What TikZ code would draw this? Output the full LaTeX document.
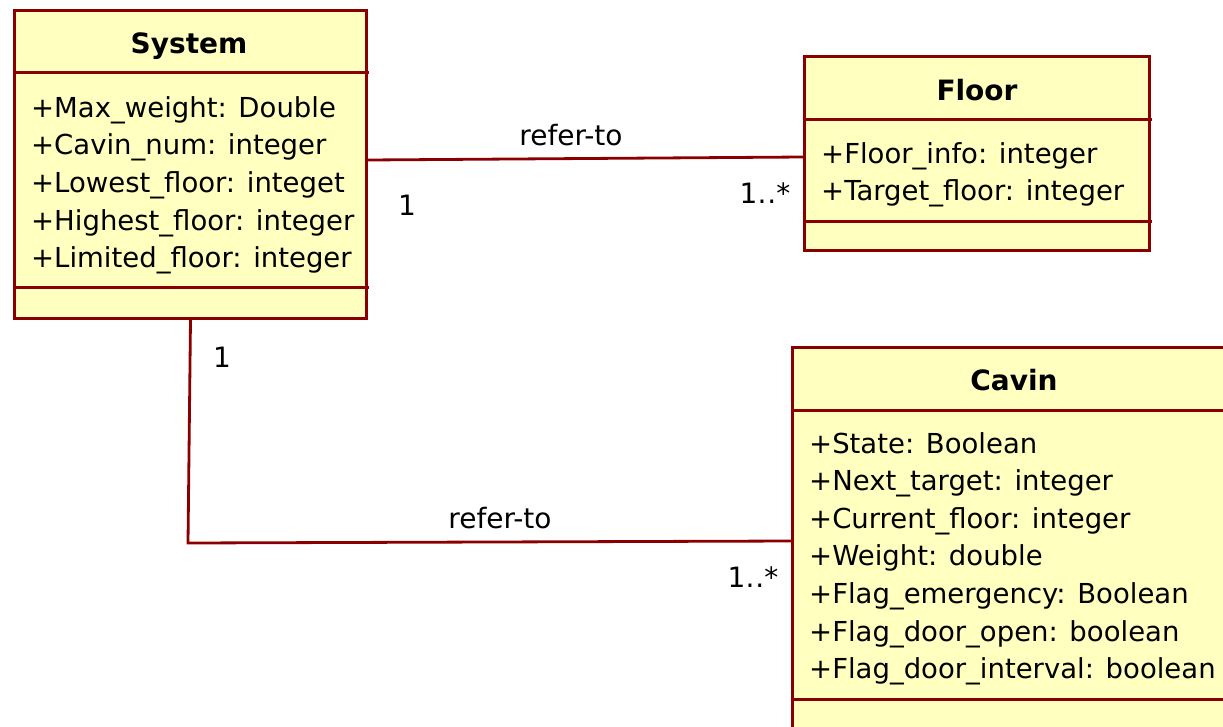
\documentclass[tikz,border=0pt]{standalone}
\usepackage{fontspec}
\setmainfont{DejaVu Sans}
\definecolor{umlline}{RGB}{138,0,0}
\definecolor{umlfill}{RGB}{255,255,192}
\begin{document}
\begin{tikzpicture}[x=1pt,y=-1pt,
  classbox/.style={draw=umlline, fill=umlfill, line width=3pt, rectangle,
                   inner sep=0pt, anchor=north west},
  divider/.style={draw=umlline, line width=3pt},
  assoc/.style={draw=umlline, line width=2.8pt},
  classname/.style={anchor=base, inner sep=0pt, font=\fontsize{28}{32}\selectfont\bfseries},
  attr/.style={anchor=base west, inner sep=0pt, font=\fontsize{27.5}{32}\selectfont},
  rolelabel/.style={anchor=base, inner sep=0pt, font=\fontsize{28}{32}\selectfont}]
\useasboundingbox (0,0) rectangle (1223,726);
\clip (0,0) rectangle (1223,726);

% System class
\node[classbox, minimum width=352pt, minimum height=308pt] (system) at (13,9) {};
\draw[divider] (system.west |- 0,72) -- (369,72);
\draw[divider] (system.west |- 0,287) -- (369,287);
\node[classname] (systemname) at (189,53) {System};
\foreach \t [count=\i from 0] in {{+Max\_weight: Double},{+Cavin\_num: integer},
    {+Lowest\_floor: integet},{+Highest\_floor: integer},{+Limited\_floor: integer}}
  \node[attr] (sysattr\i) at (31,117+37.7*\i) {\t};

% Floor class
\node[classbox, minimum width=345pt, minimum height=194pt] (floor) at (803,55) {};
\draw[divider] (floor.west |- 0,119) -- (1152,119);
\draw[divider] (floor.west |- 0,221) -- (1152,221);
\node[classname] (floorname) at (977,100) {Floor};
\foreach \t [count=\i from 0] in {{+Floor\_info: integer},{+Target\_floor: integer}}
  \node[attr] (floorattr\i) at (821,163+37.5*\i) {\t};

% Cavin class
\node[classbox, minimum width=446pt, minimum height=420pt] (cavin) at (791,346) {};
\draw[divider] (cavin.west |- 0,410) -- (1240,410);
\draw[divider] (cavin.west |- 0,699) -- (1240,699);
\node[classname] (cavinname) at (1014,390) {Cavin};
\foreach \t [count=\i from 0] in {{+State: Boolean},{+Next\_target: integer},
    {+Current\_floor: integer},{+Weight: double},{+Flag\_emergency: Boolean},
    {+Flag\_door\_open: boolean},{+Flag\_door\_interval: boolean}}
  \node[attr] (cavinattr\i) at (809,453+37.6*\i) {\t};

% Associations
\draw[assoc] (system.east |- 0,160) -- (floor.west |- 0,157);
\node[rolelabel] (assoc1name) at (571,145) {refer-to};
\node[rolelabel] (assoc1src) at (407,215) {1};
\node[rolelabel] (assoc1dst) at (765,203) {1.\kern1pt.*};

\coordinate (bend) at (188,543);
\draw[assoc] (system.south) -- (bend) -- (cavin.west |- 0,541);
\node[rolelabel] (assoc2name) at (500,528) {refer-to};
\node[rolelabel] (assoc2src) at (222,367) {1};
\node[rolelabel] (assoc2dst) at (753,587) {1.\kern1pt.*};
\end{tikzpicture}
\end{document}
